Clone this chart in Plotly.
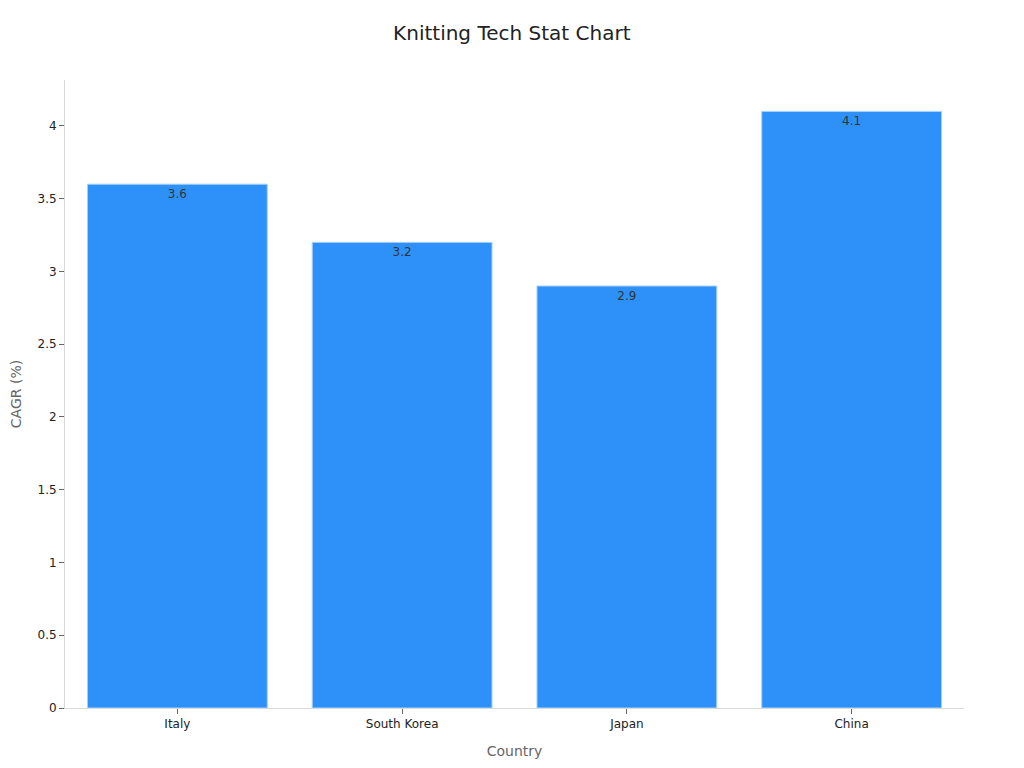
import plotly.graph_objects as go

countries = ["Italy", "South Korea", "Japan", "China"]
cagr = [3.6, 3.2, 2.9, 4.1]

trace = go.Bar(
    x=countries,
    y=cagr,
    text=cagr,
    textposition="inside",
    insidetextanchor="end",
    textfont=dict(color="#333333", size=12),
    marker=dict(color="#2E91F9", line=dict(color="#A9D0FB", width=1)),
)

layout = go.Layout(
    title=dict(text="Knitting Tech Stat Chart", x=0.492, xanchor="center", y=0.977,
               font=dict(size=20, color="#222222")),
    font=dict(family="DejaVu Sans", size=12, color="#222222"),
    width=1024,
    height=768,
    margin=dict(l=57, r=68, t=72, b=68),
    plot_bgcolor="white",
    paper_bgcolor="white",
    bargap=0.2,
    xaxis=dict(
        title=dict(text="Country", font=dict(size=14, color="#666666")),
        showline=True, linecolor="#d9d9d9", linewidth=1,
        ticks="outside", tickcolor="#666666", ticklen=5,
        showgrid=False, automargin=False,
    ),
    yaxis=dict(
        title=dict(text="CAGR (%)", font=dict(size=14, color="#666666"), standoff=15),
        showline=True, linecolor="#d9d9d9", linewidth=1,
        ticks="outside", tickcolor="#666666", ticklen=5,
        showgrid=False, zeroline=False, automargin=False,
    ),
)

fig = go.Figure(data=[trace], layout=layout)
fig.write_html("out.html")
